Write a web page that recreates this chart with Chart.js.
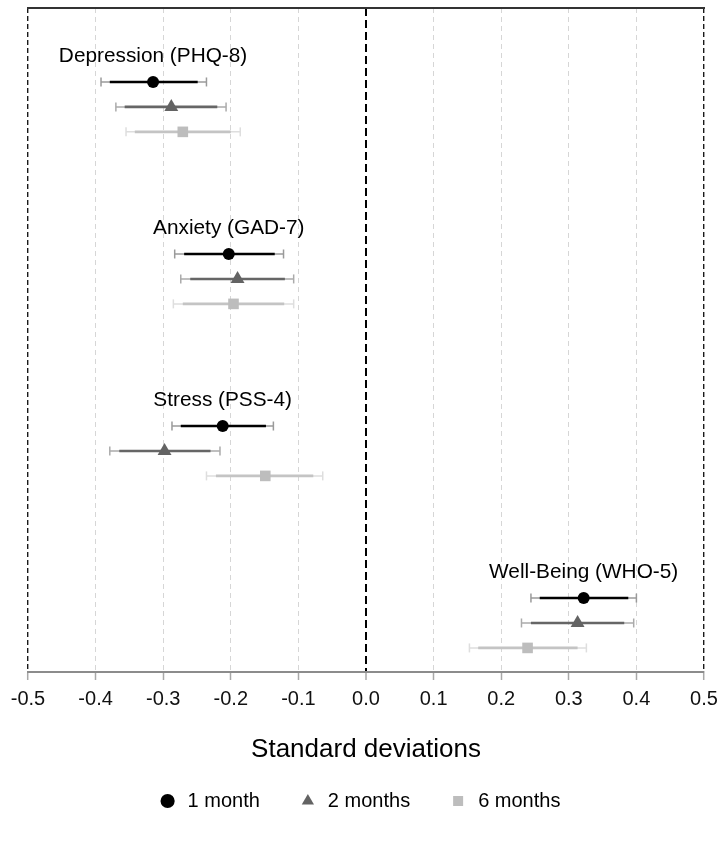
<!DOCTYPE html>
<html lang="en">
<head>
  <meta charset="UTF-8">
  <title>Effects in standard deviations</title>
  <script src="https://cdn.jsdelivr.net/npm/chart.js@4.4.1/dist/chart.umd.min.js"></script>
  <style>
    html, body { margin: 0; padding: 0; background: #fff; }
    #wrap { width: 718px; height: 841px; }
  </style>
</head>
<body>
  <div id="wrap"><canvas id="forest"></canvas></div>

  <script>
    // outcomes, top to bottom
    const outcomes = ['Depression (PHQ-8)', 'Anxiety (GAD-7)', 'Stress (PSS-4)', 'Well-Being (WHO-5)'];
    const times = ['1 month', '2 months', '6 months'];
    const xTicks = [-0.5, -0.4, -0.3, -0.2, -0.1, 0.0, 0.1, 0.2, 0.3, 0.4, 0.5];

    // 1 month
    const est1m  = [-0.315, -0.203, -0.212, 0.322];
    const lo90_1m = [-0.379, -0.269, -0.274, 0.257];
    const hi90_1m = [-0.249, -0.135, -0.148, 0.388];
    const lo95_1m = [-0.392, -0.283, -0.287, 0.244];
    const hi95_1m = [-0.236, -0.122, -0.137, 0.400];

    // 2 months
    const est2m  = [-0.288, -0.190, -0.298, 0.313];
    const lo90_2m = [-0.357, -0.260, -0.365, 0.244];
    const hi90_2m = [-0.220, -0.120, -0.230, 0.382];
    const lo95_2m = [-0.370, -0.274, -0.379, 0.230];
    const hi95_2m = [-0.207, -0.107, -0.216, 0.396];

    // 6 months
    const est6m  = [-0.271, -0.196, -0.149, 0.239];
    const lo90_6m = [-0.342, -0.271, -0.222, 0.166];
    const hi90_6m = [-0.200, -0.121, -0.078, 0.313];
    const lo95_6m = [-0.355, -0.285, -0.236, 0.153];
    const hi95_6m = [-0.186, -0.107, -0.064, 0.326];

    const estimates = [est1m, est2m, est6m];
    const lo90 = [lo90_1m, lo90_2m, lo90_6m];
    const hi90 = [hi90_1m, hi90_2m, hi90_6m];
    const lo95 = [lo95_1m, lo95_2m, lo95_6m];
    const hi95 = [hi95_1m, hi95_2m, hi95_6m];

    // look
    const pointColors = ['#000000', '#636363', '#bdbdbd'];
    const innerColors = ['#000000', '#666666', '#c4c4c4'];
    const outerColors = ['#9a9a9a', '#ababab', '#dedede'];
    const pointStyles = ['circle', 'triangle', 'rect'];
    const pointSizes = [6, 8, 7.5];
    const rowShift = [0.145, 0, -0.145];
    const labelLift = 0.262;

    const groupPos = outcomes.map((_, i) => outcomes.length - i);

    function intervalPoints(lo, hi, shift) {
      const pts = [];
      outcomes.forEach((_, i) => {
        const y = groupPos[i] + shift;
        pts.push({ x: lo[i], y: y }, { x: hi[i], y: y }, { x: hi[i], y: null });
      });
      return pts;
    }

    const datasets = [];
    times.forEach((t, k) => {
      datasets.push({
        type: 'scatter',
        label: t,
        data: outcomes.map((_, i) => ({ x: estimates[k][i], y: groupPos[i] + rowShift[k] })),
        pointStyle: pointStyles[k],
        pointRadius: pointSizes[k],
        backgroundColor: pointColors[k],
        borderWidth: 0,
        order: 0
      });
      datasets.push({
        type: 'line',
        label: t + ' inner',
        data: intervalPoints(lo90[k], hi90[k], rowShift[k]),
        borderColor: innerColors[k],
        borderWidth: 2.6,
        pointRadius: 0,
        spanGaps: false,
        order: 1
      });
      datasets.push({
        type: 'line',
        label: t + ' outer',
        data: intervalPoints(lo95[k], hi95[k], rowShift[k]),
        borderColor: outerColors[k],
        borderWidth: 1.5,
        pointStyle: 'line',
        pointRotation: 90,
        pointRadius: 4.5,
        pointBorderColor: outerColors[k],
        pointBorderWidth: 1.5,
        spanGaps: false,
        order: 2
      });
    });

    const isZero = v => Math.abs(v) < 1e-9;
    const isEdge = v => Math.abs(Math.abs(v) - 0.5) < 1e-9;

    const outcomeLabels = {
      id: 'outcomeLabels',
      afterDatasetsDraw(chart) {
        const { ctx, scales: { x, y } } = chart;
        ctx.save();
        ctx.font = '20.8px "Liberation Sans", Arial, sans-serif';
        ctx.fillStyle = '#000';
        ctx.textAlign = 'center';
        ctx.textBaseline = 'alphabetic';
        outcomes.forEach((name, i) => {
          ctx.fillText(name, x.getPixelForValue(est1m[i]), y.getPixelForValue(groupPos[i] + labelLift));
        });
        ctx.restore();
      }
    };

    Chart.defaults.font.family = '"Liberation Sans", Arial, Helvetica, sans-serif';
    Chart.defaults.color = '#000';

    new Chart(document.getElementById('forest'), {
      type: 'scatter',
      data: { datasets: datasets },
      options: {
        responsive: true,
        maintainAspectRatio: false,
        animation: false,
        events: [],
        layout: { padding: { left: 14, right: 14, top: 8, bottom: 20 } },
        scales: {
          x: {
            type: 'linear',
            position: 'bottom',
            min: -0.5,
            max: 0.5,
            afterBuildTicks: scale => { scale.ticks = xTicks.map(v => ({ value: v })); },
            ticks: {
              autoSkip: false,
              maxRotation: 0,
              padding: 0,
              font: { size: 20, lineHeight: 1.9 },
              color: '#111',
              callback: v => isZero(v) ? '0.0' : Number(v).toFixed(1)
            },
            grid: {
              color: c => isZero(c.tick.value) ? '#000' : isEdge(c.tick.value) ? '#1a1a1a' : '#d6d6d6',
              lineWidth: c => isZero(c.tick.value) ? 2 : isEdge(c.tick.value) ? 1.4 : 1,
              tickLength: 8,
              tickColor: '#a8a8a8',
              tickWidth: 1.5,
              tickBorderDash: []
            },
            border: {
              color: '#8c8c8c',
              width: 2,
              dash: c => c.type !== 'tick' ? [] : isZero(c.tick.value) ? [8, 4] : isEdge(c.tick.value) ? [5, 3] : [5, 4]
            },
            title: {
              display: true,
              text: 'Standard deviations',
              font: { size: 26 },
              color: '#000',
              padding: { top: 16.4, bottom: -12.6 }
            }
          },
          xTop: {
            type: 'linear',
            position: 'top',
            min: -0.5,
            max: 0.5,
            ticks: { display: false },
            grid: { display: false, drawTicks: false },
            border: { color: '#333', width: 2 }
          },
          y: {
            type: 'linear',
            min: 0.715,
            max: 4.575,
            ticks: { display: false },
            grid: { display: false, drawTicks: false },
            border: { display: false },
            afterFit: scale => { scale.width = 14; }
          }
        },
        plugins: {
          tooltip: { enabled: false },
          legend: {
            position: 'bottom',
            labels: {
              usePointStyle: true,
              boxHeight: 10,
              padding: 38,
              color: '#000',
              font: { size: 20 },
              generateLabels: () => times.map((t, k) => ({
                text: t,
                fillStyle: pointColors[k],
                strokeStyle: pointColors[k],
                lineWidth: 0,
                pointStyle: pointStyles[k],
                fontColor: '#000',
                hidden: false,
                datasetIndex: k * 3
              }))
            }
          }
        }
      },
      plugins: [outcomeLabels]
    });
  </script>
</body>
</html>
